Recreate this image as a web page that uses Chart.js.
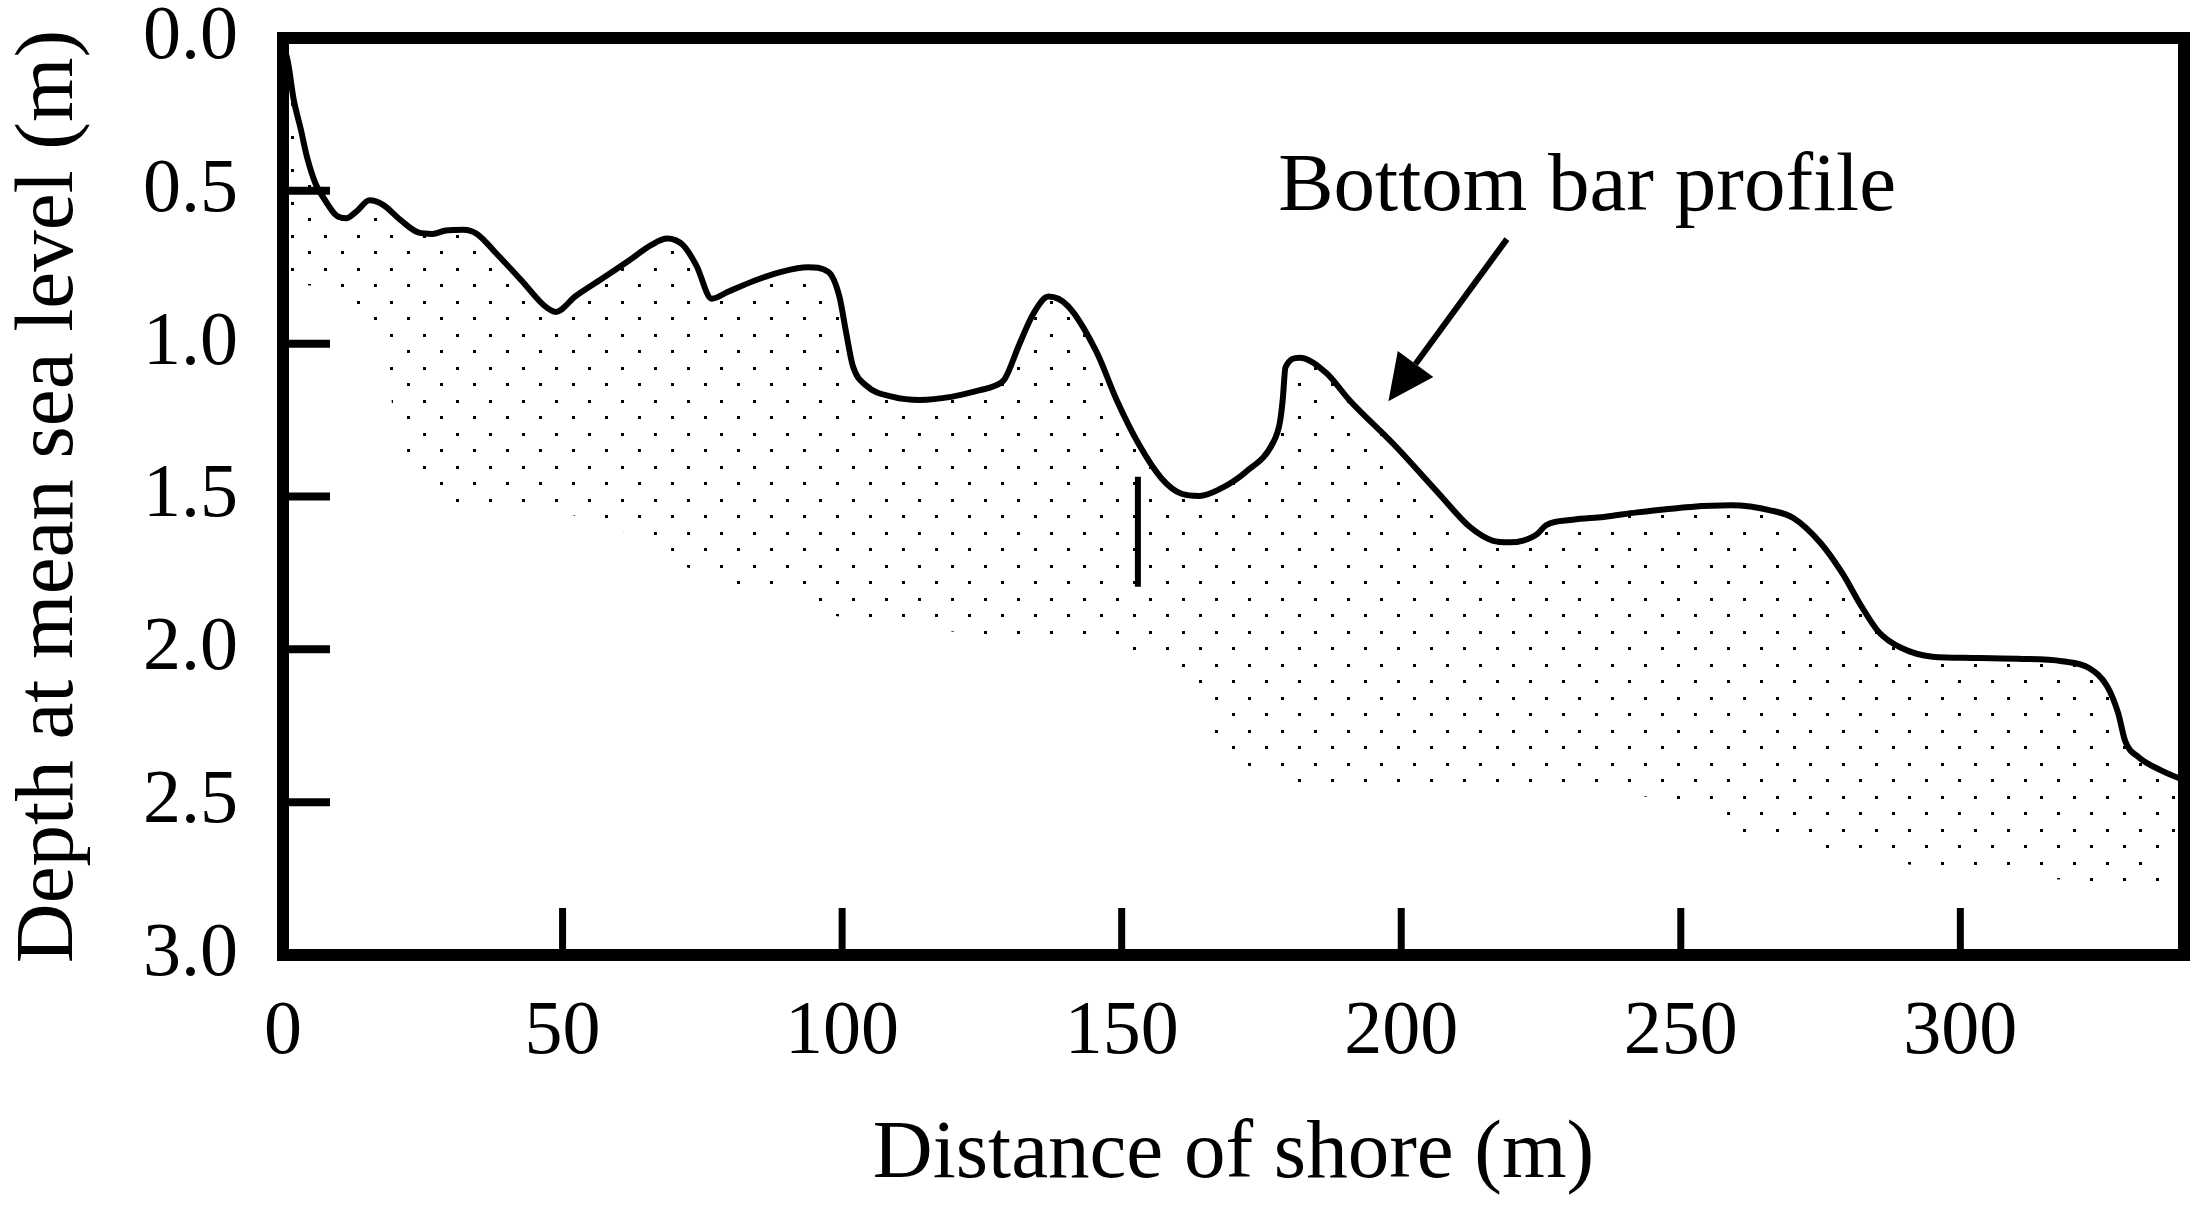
<!DOCTYPE html>
<html>
<head>
<meta charset="utf-8">
<title>Bottom bar profile</title>
<script src="https://cdn.jsdelivr.net/npm/chart.js@4.4.1/dist/chart.umd.min.js"></script>
<style>
  html, body { margin: 0; padding: 0; background: #fff; }
  #wrap { width: 2196px; height: 1205px; position: relative; }
</style>
</head>
<body>
<div id="wrap"><canvas id="chart"></canvas></div>
<script>
// Beach profile: distance from shore (m) vs depth below mean sea level (m)

const SERIF = "'Liberation Serif', 'Times New Roman', serif";

const xTicks = [0, 50, 100, 150, 200, 250, 300];
const yTicks = [0, 0.5, 1.0, 1.5, 2.0, 2.5, 3.0];

const profileX = [
  0, 0.9, 1.9, 3.2, 4.3, 5.9, 7.5, 9.5, 11.3, 13.1, 15.5, 17.9, 21.1, 24.3, 26.7,
  29.1, 32.3, 34.7, 37.9, 42.7, 46.7, 48.8, 52.3, 57.1, 61.9, 65.9, 68.7, 71.5,
  73.9, 76.7, 79.5, 84.3, 89.1, 93.9, 97.5, 99.5, 100.7, 101.9, 104.3, 109.1,
  113.9, 119.5, 124.7, 127, 129.1, 131.7, 134.2, 136.9, 140.4, 145.5, 149.1,
  153.1, 157.1, 160.7, 163.9, 167.5, 172.3, 177.1, 178.3, 178.8, 179.3, 181.8,
  186.6, 190.7, 198.7, 206.7, 212.3, 216.3, 219.5, 221.8, 224.3, 225.9, 230.7,
  236.2, 242.2, 251.8, 259, 266.2, 270.2, 275, 279, 282.2, 285.4, 289.4, 295,
  302.2, 310.2, 318.2, 323, 326.2, 328.2, 329.5, 331.9, 335.9, 339.9, 341
];
const profileDepth = [
  0.02, 0.08, 0.20, 0.30, 0.39, 0.48, 0.53, 0.58, 0.59, 0.568, 0.531, 0.546, 0.597, 0.637, 0.641,
  0.630, 0.627, 0.641, 0.70, 0.794, 0.875, 0.896, 0.845, 0.787, 0.728, 0.677, 0.656, 0.677,
  0.743, 0.853, 0.831, 0.794, 0.765, 0.750, 0.765, 0.845, 0.962, 1.072, 1.137, 1.174,
  1.184, 1.174, 1.152, 1.14, 1.115, 1.002, 0.902, 0.846, 0.877, 1.027, 1.184,
  1.33, 1.44, 1.491, 1.498, 1.476, 1.418, 1.323, 1.257, 1.184, 1.077, 1.046,
  1.096, 1.184, 1.33, 1.49, 1.60, 1.644, 1.650, 1.644, 1.623, 1.594, 1.576,
  1.567, 1.552, 1.534, 1.529, 1.546, 1.571, 1.652, 1.754, 1.856, 1.943, 1.995, 2.024,
  2.028, 2.031, 2.039, 2.061, 2.119, 2.207, 2.301, 2.353, 2.396, 2.426, 2.43
];

// Lower edge of the stippled sand body
const sandX = [
  0, 10, 13, 16, 18.5, 19.5, 22, 25, 28, 31, 50, 60, 69, 72, 81, 95.5, 98.5, 123,
  151.5, 160.5, 163.5, 166, 166.5, 169.5, 172.5, 181, 222, 249, 258, 261, 275.5,
  296.5, 329, 336, 339, 341
];
const sandDepth = [
  0.80, 0.82, 0.87, 0.93, 1.00, 1.20, 1.36, 1.41, 1.46, 1.52, 1.55, 1.61, 1.68, 1.73, 1.79, 1.84, 1.89, 1.95,
  2.00, 2.06, 2.11, 2.20, 2.28, 2.33, 2.38, 2.44, 2.45, 2.49, 2.55, 2.60, 2.66,
  2.72, 2.77, 2.78, 2.64, 2.60
];

// Short vertical marker inside the sand body
const markerX = [152.9, 152.9];
const markerDepth = [1.435, 1.795];

// Annotation
const labelText = 'Bottom bar profile';
const labelAt = [178, 0.562];
const arrowFrom = [218.9, 0.658];
const arrowTo = [197.7, 1.188];

function points(xs, ys) {
  return xs.map((x, i) => ({ x: x, y: ys[i] }));
}

// Dot stipple used for the sand fill
function makeStipple() {
  const tile = document.createElement('canvas');
  tile.width = 33;
  tile.height = 33;
  const t = tile.getContext('2d');
  t.fillStyle = '#000';
  t.fillRect(27, 4, 3, 3);
  t.fillRect(11, 20, 3, 3);
  return t.createPattern(tile, 'repeat');
}

const framePlugin = {
  id: 'frame',
  beforeDraw(chart) {
    const ctx = chart.ctx;
    ctx.save();
    ctx.fillStyle = '#fff';
    ctx.fillRect(0, 0, chart.width, chart.height);
    ctx.restore();
  },
  afterDraw(chart) {
    const { ctx, chartArea: a, scales: { x, y } } = chart;
    ctx.save();
    ctx.strokeStyle = '#000';
    ctx.fillStyle = '#000';

    // inward tick marks
    ctx.lineWidth = 8;
    yTicks.slice(1, -1).forEach(v => {
      const py = y.getPixelForValue(v);
      ctx.beginPath();
      ctx.moveTo(a.left, py);
      ctx.lineTo(a.left + 47, py);
      ctx.stroke();
    });
    ctx.lineWidth = 7;
    xTicks.slice(1).forEach(v => {
      const px = x.getPixelForValue(v);
      ctx.beginPath();
      ctx.moveTo(px, a.bottom);
      ctx.lineTo(px, a.bottom - 47);
      ctx.stroke();
    });

    // heavy frame
    ctx.lineWidth = 12;
    ctx.strokeRect(a.left, a.top, a.right - a.left, a.bottom - a.top);

    // label
    ctx.font = '83px ' + SERIF;
    ctx.textAlign = 'left';
    ctx.textBaseline = 'alphabetic';
    ctx.fillText(labelText, x.getPixelForValue(labelAt[0]), y.getPixelForValue(labelAt[1]));

    // arrow
    const x0 = x.getPixelForValue(arrowFrom[0]), y0 = y.getPixelForValue(arrowFrom[1]);
    const x1 = x.getPixelForValue(arrowTo[0]), y1 = y.getPixelForValue(arrowTo[1]);
    const ang = Math.atan2(y1 - y0, x1 - x0);
    const headLen = 46, headHalf = 22;
    const bx = x1 - headLen * Math.cos(ang), by = y1 - headLen * Math.sin(ang);
    ctx.lineWidth = 6;
    ctx.beginPath();
    ctx.moveTo(x0, y0);
    ctx.lineTo(bx, by);
    ctx.stroke();
    ctx.beginPath();
    ctx.moveTo(x1, y1);
    ctx.lineTo(bx + headHalf * Math.sin(ang), by - headHalf * Math.cos(ang));
    ctx.lineTo(bx - headHalf * Math.sin(ang), by + headHalf * Math.cos(ang));
    ctx.closePath();
    ctx.fill();

    ctx.restore();
  }
};

new Chart(document.getElementById('chart'), {
  type: 'line',
  data: {
    datasets: [
      {
        label: 'Profile',
        data: points(profileX, profileDepth),
        borderColor: '#000',
        borderWidth: 6,
        backgroundColor: makeStipple(),
        fill: '+1',
        pointRadius: 0,
        cubicInterpolationMode: 'monotone'
      },
      {
        label: 'Sand base',
        data: points(sandX, sandDepth),
        borderColor: 'rgba(0,0,0,0)',
        borderWidth: 0,
        fill: false,
        pointRadius: 0,
        tension: 0
      },
      {
        label: 'Marker',
        data: points(markerX, markerDepth),
        borderColor: '#000',
        borderWidth: 6,
        fill: false,
        pointRadius: 0
      }
    ]
  },
  options: {
    responsive: true,
    maintainAspectRatio: false,
    animation: false,
    layout: { padding: { top: 38, right: 12, left: 0, bottom: 0 } },
    plugins: {
      legend: { display: false },
      tooltip: { enabled: false }
    },
    scales: {
      x: {
        type: 'linear',
        min: 0,
        max: 340,
        grid: { display: false, drawTicks: false },
        border: { display: false },
        afterBuildTicks: s => { s.ticks = xTicks.map(v => ({ value: v })); },
        afterFit: s => { s.height = 250; s.paddingLeft = 0; s.paddingRight = 0; },
        ticks: {
          color: '#000',
          padding: 40,
          maxRotation: 0,
          autoSkip: false,
          font: { family: SERIF, size: 76, lineHeight: 1.0 }
        },
        title: {
          display: true,
          text: 'Distance of shore (m)',
          color: '#000',
          padding: 0,
          font: { family: SERIF, size: 83, lineHeight: 1.2 }
        }
      },
      y: {
        type: 'linear',
        reverse: true,
        min: 0,
        max: 3,
        grid: { display: false, drawTicks: false },
        border: { display: false },
        afterBuildTicks: s => { s.ticks = yTicks.map(v => ({ value: v })); },
        afterFit: s => { s.width = 283; s.paddingTop = 0; s.paddingBottom = 0; },
        ticks: {
          color: '#000',
          padding: 45,
          autoSkip: false,
          font: { family: SERIF, size: 76, lineHeight: 1.0 },
          callback: v => Number(v).toFixed(1)
        },
        title: {
          display: true,
          text: 'Depth at mean sea level (m)',
          color: '#000',
          padding: 0,
          font: { family: SERIF, size: 83, lineHeight: 1.2 }
        }
      }
    }
  },
  plugins: [framePlugin]
});
</script>
</body>
</html>
